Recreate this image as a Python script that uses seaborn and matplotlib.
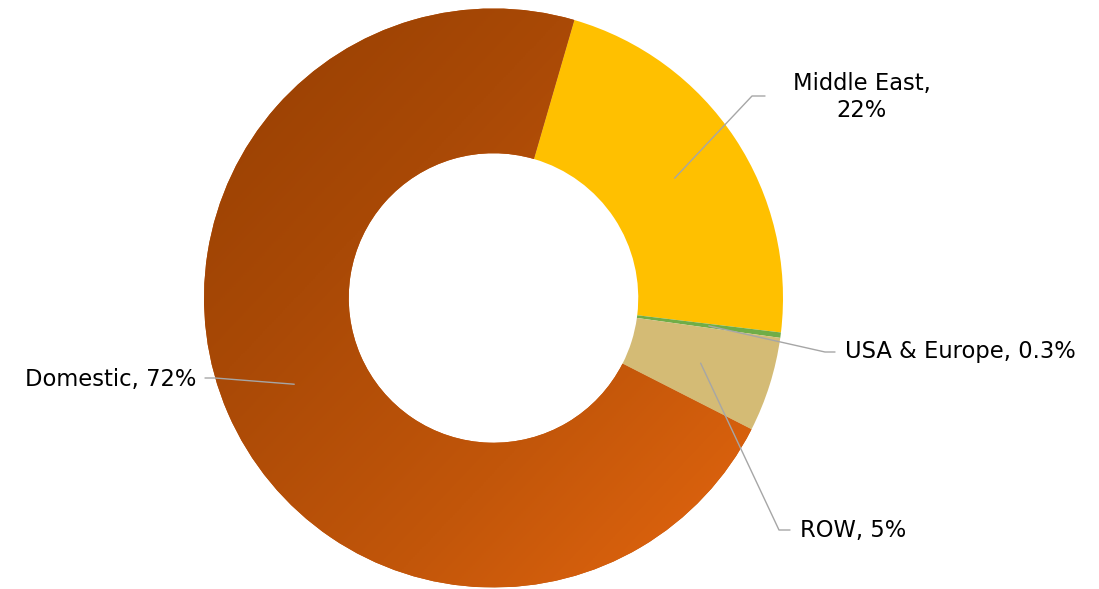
import numpy as np
import matplotlib
matplotlib.use("Agg")
import matplotlib.pyplot as plt
import seaborn as sns
from matplotlib.colors import LinearSegmentedColormap

# ---- data ----
categories = ["Middle East", "USA & Europe", "ROW", "Domestic"]
shares = [22.4, 0.3, 5.3, 72.0]
label_texts = ["Middle East,\n22%", "USA & Europe, 0.3%", "ROW, 5%", "Domestic, 72%"]
colors = ["#FFC000", "#70AD47", "#D4BB75", "#C0550A"]

sns.set_theme(style="white")
plt.rcParams["font.family"] = ["DejaVu Sans"]

W, H = 1099, 589
fig = plt.figure(figsize=(W / 100, H / 100), dpi=100)
ax = fig.add_axes([0, 0, 1, 1])

cx, cy, R = 493.5, 298.0, 289.5  # pixel geometry of the donut
ax.set_xlim(-cx / R, (W - cx) / R)
ax.set_ylim((cy - H) / R, cy / R)
ax.set_aspect("equal")
ax.axis("off")

start = 90 - 16.2
wedges, _ = ax.pie(shares, colors=colors, startangle=start, counterclock=False,
                   radius=1.0, wedgeprops=dict(width=0.5, edgecolor="none", linewidth=0),
                   center=(0, 0))

# gradient fill on the Domestic wedge
dom = wedges[3]
bb = dom.get_path().get_extents(dom.get_patch_transform())
x0, y0, x1, y1 = bb.x0, bb.y0, bb.x1, bb.y1
nx, ny = 300, 300
xs = np.linspace(0, 1, nx)
ys = np.linspace(0, 1, ny)
X, Y = np.meshgrid(xs, ys)
T = (X + Y) / 2.0  # row 0 = top (origin upper)
cmap = LinearSegmentedColormap.from_list("dom", ["#963F03", "#A94906", "#C2560A", "#E4660F"])
im = ax.imshow(T, cmap=cmap, extent=(x0, x1, y0, y1), origin="upper",
               aspect="auto", interpolation="bilinear", zorder=dom.get_zorder() + 0.1)
im.set_clip_path(dom)
ax.set_xlim(-cx / R, (W - cx) / R)
ax.set_ylim((cy - H) / R, cy / R)


def px(x, y):
    return ((x - cx) / R, (cy - y) / R)


# leader lines and labels
cum = np.cumsum([0] + shares)
tot = sum(shares)
line_kw = dict(color="#A6A6A6", lw=1.0, zorder=5)
# (elbow pixel, end pixel, text pixel, ha)
layout = [
    ((752, 96), (765, 96), (862, 97), "center"),
    ((825, 352), (835, 352), (845, 352), "left"),
    ((779, 530), (790, 530), (800, 530), "left"),
    ((215, 378), (205, 378), (196, 380), "right"),
]
for i, (elb, end, tpos, ha) in enumerate(layout):
    mid = (cum[i] + cum[i + 1]) / 2 / tot * 360
    ang = np.deg2rad(start - mid)
    ax_, ay_ = 0.75 * np.cos(ang), 0.75 * np.sin(ang)
    e1 = px(*elb)
    e2 = px(*end)
    ax.plot([ax_, e1[0], e2[0]], [ay_, e1[1], e2[1]], **line_kw)
    tx, ty = px(*tpos)
    ax.text(tx, ty, label_texts[i], ha=ha, va="center", fontsize=16.3,
            color="#000000", linespacing=1.25, multialignment="center")

fig.savefig("out.png", dpi=100, facecolor="white")
